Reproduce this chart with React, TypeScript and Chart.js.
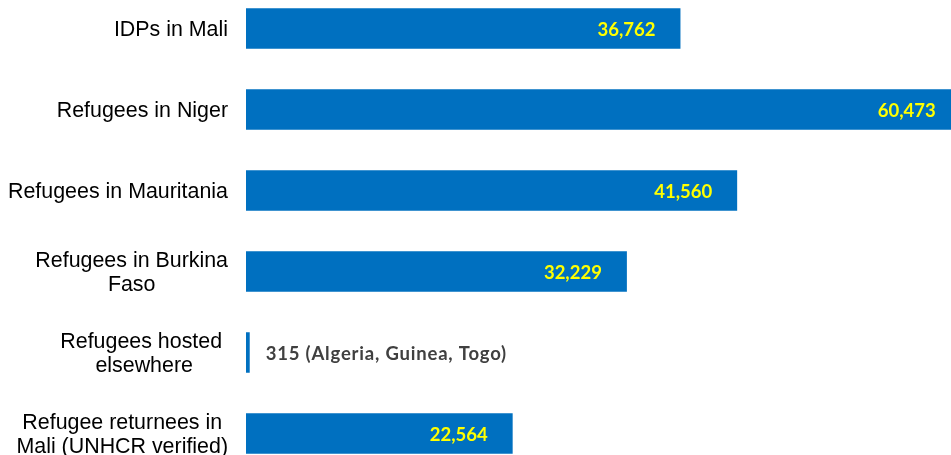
import React, { useEffect, useRef } from "react";
import { Chart, registerables } from "chart.js";

Chart.register(...registerables);

const categories: string[][] = [
  ["IDPs in Mali"],
  ["Refugees in Niger"],
  ["Refugees in Mauritania"],
  ["Refugees in Burkina", "Faso"],
  ["Refugees hosted ", "elsewhere"],
  ["Refugee returnees in", "Mali (UNHCR verified)"],
];
const values: number[] = [36762, 60473, 41560, 32229, 315, 22564];
const notes: string[] = ["", "", "", "", " (Algeria, Guinea, Togo)", ""];

const BAR_BLUE = "#0070C0";
const LABEL_YELLOW = "#FFFF00";
const OUTSIDE_GRAY = "#404040";

const fmt = (v: number) => v.toLocaleString("en-US");

const categoryLabelsPlugin = {
  id: "categoryLabels",
  afterDraw(chart: any) {
    const { ctx, chartArea, scales } = chart;
    const yScale = scales.y;
    ctx.save();
    ctx.font = '21.4px "Liberation Sans", Arial, sans-serif';
    ctx.fillStyle = "#000000";
    ctx.textBaseline = "alphabetic";
    ctx.textAlign = "center";
    const lineHeight = 24;
    const rightX = chartArea.left - 18;
    categories.forEach((lines, i) => {
      const cy = yScale.getPixelForValue(i);
      const blockW = Math.max(...lines.map((l) => ctx.measureText(l).width));
      const cx = rightX - blockW / 2;
      const n = lines.length;
      lines.forEach((line, j) => {
        const y = cy + 7.5 + (j - (n - 1) / 2) * lineHeight;
        ctx.fillText(line, cx, y);
      });
    });
    ctx.restore();
  },
};

const valueLabelsPlugin = {
  id: "valueLabels",
  afterDatasetsDraw(chart: any) {
    const { ctx } = chart;
    const meta = chart.getDatasetMeta(0);
    ctx.save();
    ctx.font = 'bold 18.5px Lato, "Open Sans", sans-serif';
    ctx.textBaseline = "alphabetic";
    meta.data.forEach((bar: any, i: number) => {
      const text = fmt(values[i]) + notes[i];
      const width = bar.x - bar.base;
      if (width < 60) {
        ctx.fillStyle = OUTSIDE_GRAY;
        ctx.textAlign = "left";
        (ctx as any).letterSpacing = "0.8px";
        ctx.fillText(text, bar.x + 16, bar.y + 7);
        (ctx as any).letterSpacing = "0px";
      } else {
        ctx.fillStyle = LABEL_YELLOW;
        ctx.textAlign = "right";
        ctx.fillText(text, bar.x - 25, bar.y + 7);
      }
    });
    ctx.restore();
  },
};

export default function App() {
  const canvasRef = useRef<HTMLCanvasElement | null>(null);

  useEffect(() => {
    const canvas = canvasRef.current;
    if (!canvas) return;
    const chart = new Chart(canvas, {
      type: "bar",
      data: {
        labels: categories.map((l) => l.join(" ")),
        datasets: [
          {
            data: values,
            backgroundColor: BAR_BLUE,
            borderWidth: 0,
            barPercentage: 0.5,
            categoryPercentage: 1,
          },
        ],
      },
      options: {
        indexAxis: "y",
        responsive: false,
        maintainAspectRatio: false,
        animation: false,
        devicePixelRatio: 1,
        layout: { padding: { left: 246, right: 0, top: 0, bottom: 0 } },
        scales: {
          x: { display: false, min: 0, max: 63800, grid: { display: false } },
          y: { display: false, grid: { display: false } },
        },
        plugins: {
          legend: { display: false },
          tooltip: { enabled: false },
        },
      },
      plugins: [categoryLabelsPlugin, valueLabelsPlugin],
    });
    return () => chart.destroy();
  }, []);

  return (
    <div
      style={{
        position: "absolute",
        left: 0,
        top: 0,
        width: 951,
        height: 455,
        overflow: "hidden",
        background: "#ffffff",
      }}
    >
      <canvas
        ref={canvasRef}
        width={1000}
        height={486}
        style={{ position: "absolute", left: 0, top: -12, width: 1000, height: 486 }}
      />
    </div>
  );
}
